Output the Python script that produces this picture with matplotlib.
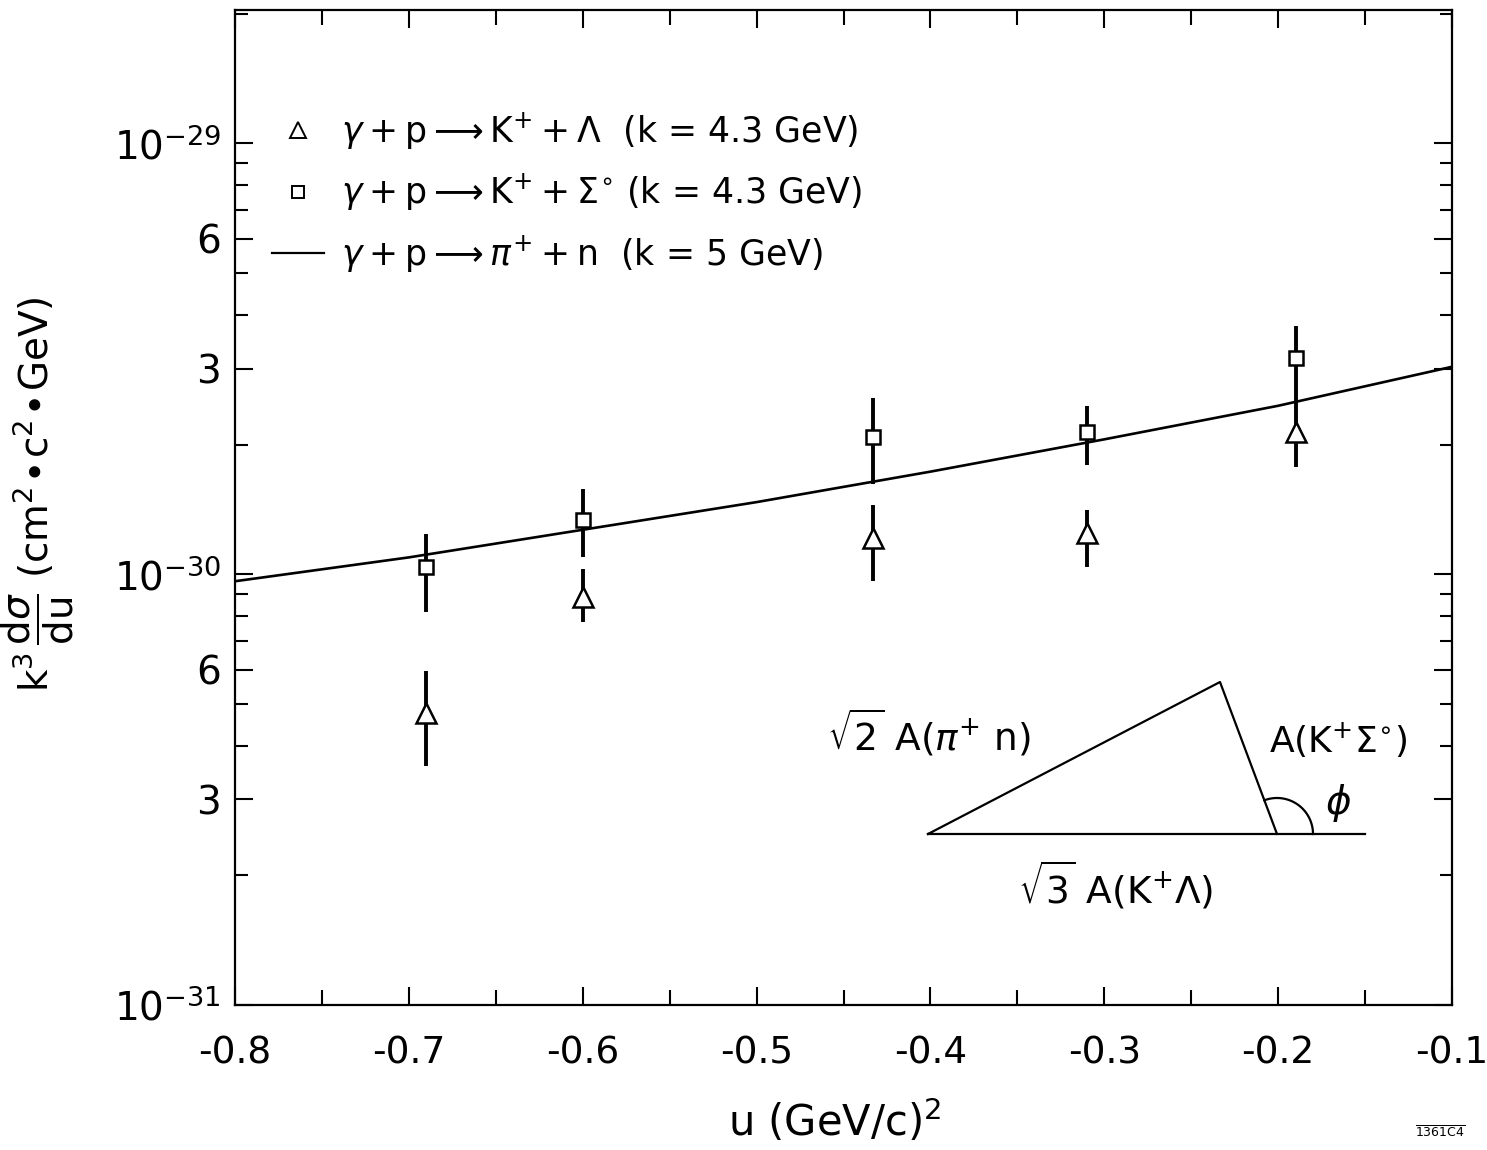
import matplotlib
matplotlib.use('Agg')
import matplotlib.pyplot as plt
import numpy as np
from matplotlib.ticker import FixedLocator, FixedFormatter, NullFormatter, LogLocator, MultipleLocator
from matplotlib.lines import Line2D

# ---------------- data ----------------
u_pts = [-0.69, -0.60, -0.433, -0.31, -0.19]

sigma_val = [1.038e-30, 1.335e-30, 2.08e-30, 2.135e-30, 3.17e-30]
sigma_hi = [1.238e-30, 1.575e-30, 2.56e-30, 2.455e-30, 3.76e-30]
sigma_lo = [0.816e-30, 1.095e-30, 1.617e-30, 1.79e-30, 2.507e-30]

lambda_val = [0.476e-30, 0.884e-30, 1.212e-30, 1.245e-30, 2.135e-30]
lambda_hi = [0.596e-30, 1.027e-30, 1.446e-30, 1.408e-30, 2.507e-30]
lambda_lo = [0.358e-30, 0.774e-30, 0.963e-30, 1.038e-30, 1.771e-30]

pin_u = [-0.8, -0.7, -0.6, -0.5, -0.4, -0.3, -0.2, -0.1]
pin_val = [0.963e-30, 1.094e-30, 1.268e-30, 1.47e-30, 1.73e-30, 2.056e-30, 2.46e-30, 3.03e-30]

y_ticks = [1e-31, 3e-31, 6e-31, 1e-30, 3e-30, 6e-30, 1e-29]
y_ticklabels = [r'$10^{-31}$', '3', '6', r'$10^{-30}$', '3', '6', r'$10^{-29}$']
x_ticks = [-0.8, -0.7, -0.6, -0.5, -0.4, -0.3, -0.2, -0.1]
x_ticklabels = ['-0.8', '-0.7', '-0.6', '-0.5', '-0.4', '-0.3', '-0.2', '-0.1']

legend_labels = [
    r'$\gamma+\mathrm{p} \longrightarrow \mathrm{K}^{+}+\Lambda$  (k = 4.3 GeV)',
    r'$\gamma+\mathrm{p} \longrightarrow \mathrm{K}^{+}+\Sigma^{\circ}$ (k = 4.3 GeV)',
    r'$\gamma+\mathrm{p} \longrightarrow \pi^{+}+\mathrm{n}$  (k = 5 GeV)',
]

# schematic triangle (figure pixel coordinates, y measured from top)
tri_left = (928, 834)
tri_top = (1220, 682)
tri_right = (1277, 834)
base_end = (1365, 834)
arc_radius = 36
label_pin = r'$\sqrt{2}$ A($\pi^{+}$ n)'
label_sig = r'A(K$^{+}\Sigma^{\circ}$)'
label_phi = r'$\phi$'
label_lam = r'$\sqrt{3}$ A(K$^{+}\Lambda$)'

# ---------------- figure ----------------
plt.rcParams['font.family'] = ['DejaVu Sans']
plt.rcParams['axes.unicode_minus'] = False
plt.rcParams['mathtext.fontset'] = 'dejavusans'

W, H = 1487, 1150
fig = plt.figure(figsize=(W / 100, H / 100), dpi=100)
ax = fig.add_axes([235 / W, 1 - 1005 / H, (1452 - 235) / W, (1005 - 10) / H])

ax.set_yscale('log')
ax.set_xlim(-0.8, -0.1)
ax.set_ylim(1e-31, 2.04e-29)

# pi+ n curve
ax.plot(pin_u, pin_val, color='black', lw=1.9, zorder=2)

# error bars
sig_err = [np.array(sigma_val) - np.array(sigma_lo), np.array(sigma_hi) - np.array(sigma_val)]
lam_err = [np.array(lambda_val) - np.array(lambda_lo), np.array(lambda_hi) - np.array(lambda_val)]
ax.errorbar(u_pts, sigma_val, yerr=sig_err, fmt='none', ecolor='black', elinewidth=2.8, capsize=0, zorder=3)
ax.errorbar(u_pts, lambda_val, yerr=lam_err, fmt='none', ecolor='black', elinewidth=2.8, capsize=0, zorder=3)

# markers
ax.plot(u_pts, sigma_val, ls='none', marker='s', ms=10, mfc='white', mec='black', mew=1.8, zorder=4)
ax.plot(u_pts, lambda_val, ls='none', marker='^', ms=14, mfc='white', mec='black', mew=1.8, zorder=4)

# ticks
ax.yaxis.set_major_locator(FixedLocator(y_ticks))
ax.yaxis.set_major_formatter(FixedFormatter(y_ticklabels))
ax.yaxis.set_minor_locator(LogLocator(base=10, subs=[2, 4, 5, 7, 8, 9], numticks=20))
ax.yaxis.set_minor_formatter(NullFormatter())
ax.xaxis.set_major_locator(FixedLocator(x_ticks))
ax.xaxis.set_major_formatter(FixedFormatter(x_ticklabels))
ax.xaxis.set_minor_locator(MultipleLocator(0.05))

ax.tick_params(which='both', direction='in', top=True, right=True, width=1.5)
ax.tick_params(axis='x', which='major', length=13, labelsize=27, pad=22)
ax.tick_params(axis='x', which='minor', length=11)
ax.tick_params(axis='y', which='major', length=13, labelsize=28, pad=10)
ax.tick_params(axis='y', which='minor', length=9)
for s in ax.spines.values():
    s.set_linewidth(1.6)

# labels
ax.set_xlabel(r'u (GeV/c)$^2$', fontsize=30)
ax.xaxis.set_label_coords(0.493, -0.093)
ax.set_ylabel(r'k$^3\,\dfrac{\mathrm{d}\sigma}{\mathrm{du}}$ (cm$^2\!\bullet\!$c$^2\!\bullet\!$GeV)', fontsize=28)
ax.yaxis.set_label_coords(-0.131, 0.513)

# legend
handles = [
    Line2D([], [], ls='none', marker='^', ms=11, mfc='white', mec='black', mew=1.4),
    Line2D([], [], ls='none', marker='s', ms=8, mfc='white', mec='black', mew=1.4),
    Line2D([], [], color='black', lw=1.6),
]
leg = ax.legend(handles, legend_labels, loc='upper left', bbox_to_anchor=((272 - 235) / 1217, (1005 - 110) / 995),
                frameon=False, fontsize=25, handlelength=1.5, handletextpad=0.5, labelspacing=0.58,
                borderpad=0, borderaxespad=0)

# overlay for schematic diagram (pixel coordinates)
ov = fig.add_axes([0, 0, 1, 1], facecolor='none')
ov.set_xlim(0, W)
ov.set_ylim(H, 0)
ov.axis('off')
ov.plot([tri_left[0], tri_top[0], tri_right[0], tri_left[0]],
        [tri_left[1], tri_top[1], tri_right[1], tri_left[1]], color='black', lw=1.6)
ov.plot([tri_right[0], base_end[0]], [tri_right[1], base_end[1]], color='black', lw=1.6)
ang = np.degrees(np.arctan2(tri_right[1] - tri_top[1], tri_top[0] - tri_right[0]))
th = np.radians(np.linspace(0, ang, 60))
ov.plot(tri_right[0] + arc_radius * np.cos(th), tri_right[1] - arc_radius * np.sin(th), color='black', lw=1.6)

ov.text(929, 733, label_pin, fontsize=27, ha='center', va='center')
ov.text(1338, 740, label_sig, fontsize=26, ha='center', va='center')
ov.text(1338, 803, label_phi, fontsize=28, ha='center', va='center')
ov.text(1116, 885, label_lam, fontsize=27, ha='center', va='center')

ov.text(1440, 1133, r'$\overline{\mathrm{1361C4}}$', fontsize=9, ha='center', va='center')

fig.savefig('out.png', dpi=100)
